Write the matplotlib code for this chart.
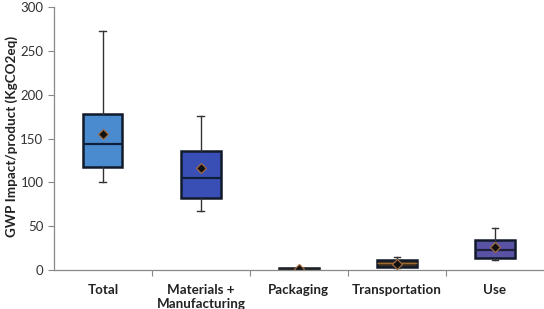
import matplotlib.pyplot as plt

categories = ['Total', 'Materials +\nManufacturing', 'Packaging', 'Transportation', 'Use']
whislo = [100, 67, 0.3, 2.5, 11.5]
q1 = [118, 82, 0.5, 3, 14]
med = [144, 105, 1.2, 7.5, 22.5]
q3 = [177.5, 135.5, 2.0, 11, 34]
whishi = [273, 175.5, 2.2, 14.5, 47.5]
means = [155, 117, 1.0, 7, 26]
box_colors = ['#4a8bd0', '#3a4fb5', '#2a2a4a', '#3a2c1e', '#5a52a5']
median_colors = ['#10203a', '#10203a', '#202020', '#a06a30', '#20203a']

plt.rcParams['font.family'] = ['Lato', 'DejaVu Sans']

stats = []
for i in range(len(categories)):
    stats.append({'whislo': whislo[i], 'q1': q1[i], 'med': med[i], 'q3': q3[i],
                  'whishi': whishi[i], 'mean': means[i], 'fliers': [], 'label': categories[i]})

fig = plt.figure(figsize=(5.44, 3.09), dpi=100)
ax = fig.add_axes([0.099, 0.126, 0.901, 0.851])

positions = list(range(len(categories)))
bp = ax.bxp(stats, positions=positions, widths=0.4, patch_artist=True, showmeans=True,
            showfliers=False, capwidths=0.07,
            boxprops=dict(linewidth=1.8, edgecolor='#111a2a'),
            whiskerprops=dict(linewidth=1.0, color='#333333'),
            capprops=dict(linewidth=1.0, color='#333333'),
            medianprops=dict(linewidth=1.6),
            meanprops=dict(marker='D', markersize=5, markerfacecolor='#111111',
                           markeredgecolor='#a06a40', markeredgewidth=0.9))
for patch, c in zip(bp['boxes'], box_colors):
    patch.set_facecolor(c)
for line, c in zip(bp['medians'], median_colors):
    line.set_color(c)
bp['medians'][3].set_linewidth(1.0)

ax.set_xlim(-0.5, len(categories) - 0.5)
ax.set_ylim(0, 300)
ax.set_yticks(range(0, 301, 50))
ax.set_xticks([p + 0.5 for p in positions[:-1]], minor=False)
ax.set_xticklabels([])
ax.set_xticks(positions, minor=True)
ax.set_xticklabels(categories, minor=True, fontsize=9.6, fontweight='bold', color='#222222')
ax.tick_params(axis='x', which='minor', length=0, pad=10)
ax.tick_params(axis='x', which='major', length=4, color='#888888', direction='out')
ax.tick_params(axis='y', length=4, color='#888888', labelsize=9.5, labelcolor='#333333')

for s in ['top', 'right']:
    ax.spines[s].set_visible(False)
for s in ['left', 'bottom']:
    ax.spines[s].set_color('#888888')
    ax.spines[s].set_linewidth(0.9)

ax.set_ylabel('GWP Impact/product (KgCO2eq)', fontsize=9.7, fontweight='bold', color='#222222')
ax.yaxis.set_label_coords(-0.074, 0.51)

fig.savefig('out.png', dpi=100)
